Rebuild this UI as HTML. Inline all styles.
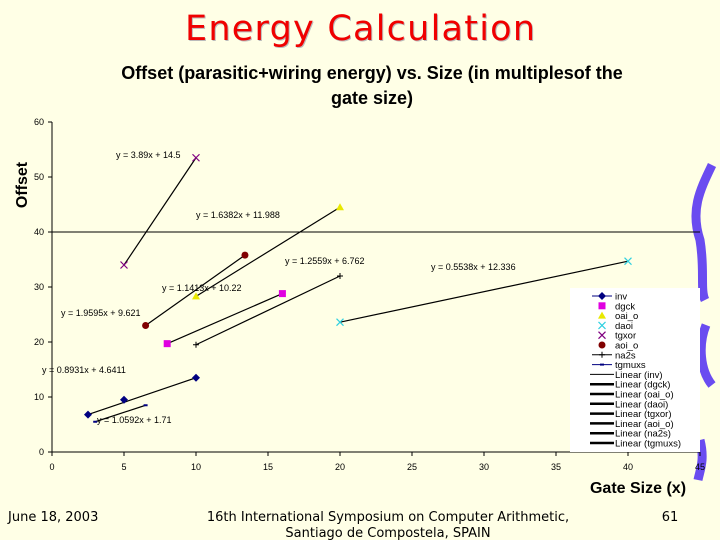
<!DOCTYPE html>
<html><head><meta charset="utf-8"><style>
body{margin:0;background:#ffffe6;}
svg{display:block}
text{font-family:"Liberation Sans",sans-serif}
</style></head><body>
<svg width="720" height="540" viewBox="0 0 720 540">
<rect width="720" height="540" fill="#ffffe6"/>
<text x="361" y="41" text-anchor="middle" font-size="35" fill="#bbb" style="font-family:'DejaVu Sans',sans-serif" textLength="350">Energy Calculation</text>
<text x="360" y="40" text-anchor="middle" font-size="35" fill="#f00000" style="font-family:'DejaVu Sans',sans-serif" textLength="350">Energy Calculation</text>
<text x="372" y="79" text-anchor="middle" font-size="18" font-weight="bold" fill="#000">Offset (parasitic+wiring energy) vs. Size (in multiplesof the</text>
<text x="372" y="104" text-anchor="middle" font-size="18" font-weight="bold" fill="#000">gate size)</text>
<text transform="translate(27,185) rotate(-90)" text-anchor="middle" font-size="16" font-weight="bold">Offset</text>
<text x="638" y="493" text-anchor="middle" font-size="16" font-weight="bold">Gate Size (x)</text>
<path d="M712 165 C700 190,690 210,700 240 C705 270,700 290,705 300 M706 325 C698 345,700 370,712 385 M700 440 C705 460,700 470,698 480" stroke="#6a4cf0" stroke-width="9" fill="none"/>
<g id="axes"></g>
<g id="marks"></g>
<g>
<rect x="570" y="288" width="130" height="164" fill="#fff"/>
<g id="legend"></g>
</g>
<text x="8" y="521" font-size="13" style="font-family:'DejaVu Sans',sans-serif">June 18, 2003</text>
<text x="388" y="521" text-anchor="middle" font-size="13" style="font-family:'DejaVu Sans',sans-serif">16th International Symposium on Computer Arithmetic,</text>
<text x="388" y="537" text-anchor="middle" font-size="13" style="font-family:'DejaVu Sans',sans-serif">Santiago de Compostela, SPAIN</text>
<text x="670" y="521" text-anchor="middle" font-size="13" style="font-family:'DejaVu Sans',sans-serif">61</text>
</svg>
<script>
const xTicks=[0,5,10,15,20,25,30,35,40,45];
const yTicks=[0,10,20,30,40,50,60];
const seriesNames=["inv","dgck","oai_o","daoi","tgxor","aoi_o","na2s","tgmuxs"];
const seriesX=[[2.5,5,10],[8,16],[10,20],[20,40],[5,10],[6.5,13.4],[10,20],[3,6.5]];
const seriesY=[[6.8,9.5,13.5],[19.7,28.8],[28.3,44.5],[23.6,34.7],[34,53.5],[23,35.8],[19.5,32],[5.5,8.5]];
const seriesColors=["#000080","#e000e0","#e8e800","#30d0e0","#800080","#800000","#000","#000080"];
const seriesMarkers=["diamond","square","triangle","x","x","circle","plus","dash"];
const eqLabels=["y = 0.8931x + 4.6411","y = 1.0592x + 1.71","y = 1.1413x + 10.22","y = 1.6382x + 11.988","y = 3.89x + 14.5","y = 1.9595x + 9.621","y = 1.2559x + 6.762","y = 0.5538x + 12.336"];
const eqX=[42,97,162,196,116,61,285,431];
const eqY=[373,423,291,218,158,316,264,270];
const NS="http://www.w3.org/2000/svg";
const X=v=>52+v*14.4, Y=v=>452-v*5.5;
function mk(t,a,p){const e=document.createElementNS(NS,t);for(const k in a)e.setAttribute(k,a[k]);p.appendChild(e);return e;}
const ax=document.getElementById('axes'),mg=document.getElementById('marks'),lg=document.getElementById('legend');
const xa=mk('line',{x1:X(0),x2:X(45),y1:Y(0),y2:Y(0),stroke:'#000'},ax);


const ya=mk('line',{x1:X(0),x2:X(0),y1:Y(0),y2:Y(60),stroke:'#000'},ax);


const gl=mk('line',{x1:X(0),x2:X(45),y1:Y(40),y2:Y(40),stroke:'#000'},ax);


xTicks.forEach(v=>{mk('line',{x1:X(v),x2:X(v),y1:Y(0),y2:Y(0)+4,stroke:'#000'},ax);
const t=mk('text',{x:X(v),y:470,'text-anchor':'middle','font-size':9},ax);t.textContent=v;

});
yTicks.forEach(v=>{mk('line',{x1:X(0)-4,x2:X(0),y1:Y(v),y2:Y(v),stroke:'#000'},ax);
const t=mk('text',{x:44,y:Y(v)+3,'text-anchor':'end','font-size':9},ax);t.textContent=v;

});
function marker(type,x,y,c,p){
 if(type=='diamond')mk('path',{d:`M${x} ${y-4}L${x+4} ${y}L${x} ${y+4}L${x-4} ${y}Z`,fill:c},p);
 else if(type=='square')mk('rect',{x:x-3.5,y:y-3.5,width:7,height:7,fill:c},p);
 else if(type=='triangle')mk('path',{d:`M${x} ${y-4}L${x+4} ${y+3}L${x-4} ${y+3}Z`,fill:c},p);
 else if(type=='x')mk('path',{d:`M${x-3.5} ${y-3.5}L${x+3.5} ${y+3.5}M${x+3.5} ${y-3.5}L${x-3.5} ${y+3.5}`,stroke:c,'stroke-width':1.2},p);
 else if(type=='circle')mk('circle',{cx:x,cy:y,r:3.5,fill:c},p);
 else if(type=='plus')mk('path',{d:`M${x-3} ${y}L${x+3} ${y}M${x} ${y-3}L${x} ${y+3}`,stroke:c},p);
 else mk('path',{d:`M${x-2} ${y}L${x+2} ${y}`,stroke:c,'stroke-width':2},p);
}
seriesNames.forEach((n,i)=>{
 const g=mk('g',{},mg);
 
 
 const xs=seriesX[i],ys=seriesY[i];
 mk('line',{x1:X(xs[0]),y1:Y(ys[0]),x2:X(xs[xs.length-1]),y2:Y(ys[ys.length-1]),stroke:'#000','stroke-width':1.2},g);
 xs.forEach((xv,j)=>marker(seriesMarkers[i],X(xv),Y(ys[j]),seriesColors[i],g));
});
eqLabels.forEach((s,i)=>{const t=mk('text',{x:eqX[i],y:eqY[i],'font-size':9},mg);t.textContent=s;

});
const legendLabels=seriesNames.concat(seriesNames.map(n=>'Linear ('+n+')'));
legendLabels.forEach((s,i)=>{const y=296+i*9.8;
 if(i<8){ if(i==0||i>=6)mk('line',{x1:592,x2:612,y1:y,y2:y,stroke:seriesColors[i]},lg);
  marker(seriesMarkers[i],602,y,seriesColors[i],lg);}
 else mk('line',{x1:590,x2:614,y1:y,y2:y,stroke:'#000','stroke-width':i==8?1:2.5},lg);
 const t=mk('text',{x:615,y:y+3.5,'font-size':9.5},lg);t.textContent=s;
 
 });
</script>
</body></html>
